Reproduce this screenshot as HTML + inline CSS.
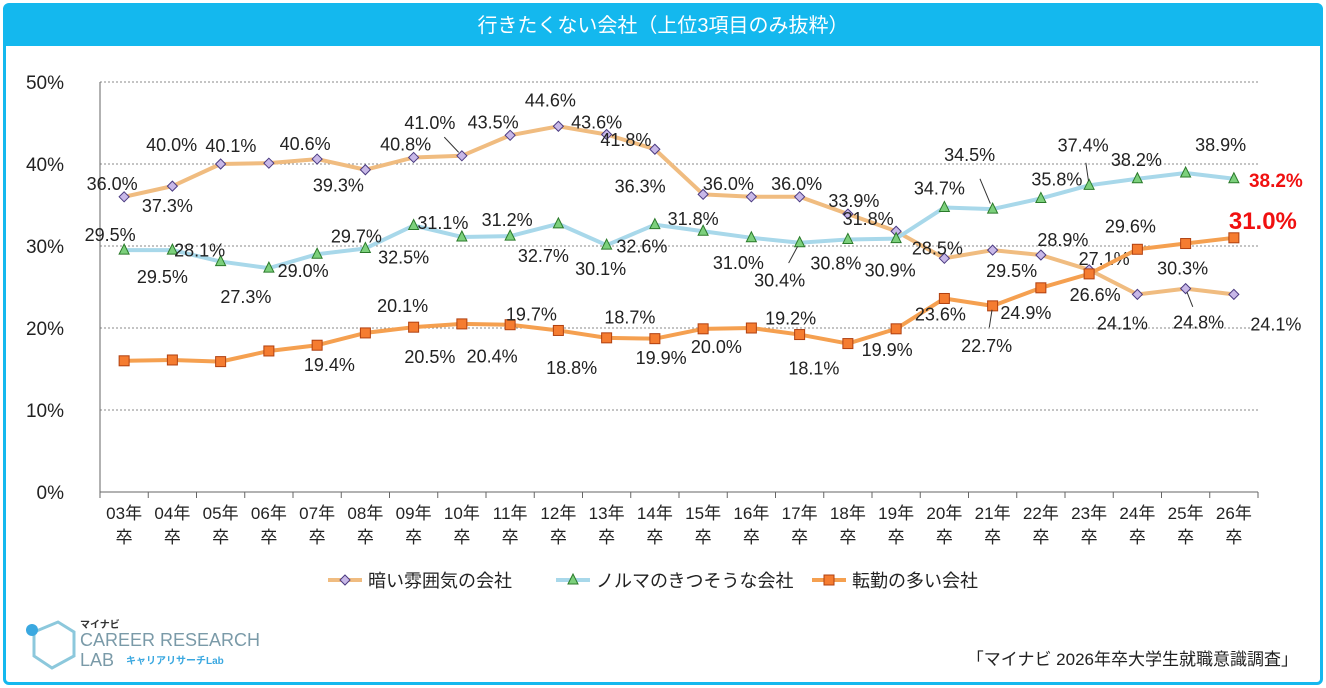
<!DOCTYPE html>
<html><head><meta charset="utf-8">
<style>
body{margin:0;width:1326px;height:688px;background:#fff;font-family:"Liberation Sans","Noto Sans CJK JP",sans-serif;overflow:hidden}
#frame{position:absolute;left:3px;top:3px;width:1314px;height:676px;border:3px solid #14B8EE;border-radius:6px}
#title{position:absolute;left:6px;top:6px;width:1314px;height:40px;background:#14B8EE;color:#fff;font-size:20px;text-align:center;line-height:40px}
</style></head><body>
<div id="frame"></div>
<div id="title">行きたくない会社（上位3項目のみ抜粋）</div>
<svg id="chart" width="1326" height="688" style="position:absolute;left:0;top:0"></svg>
<script>
const categories=["03","04","05","06","07","08","09","10","11","12","13","14","15","16","17","18","19","20","21","22","23","24","25","26"];
const darkValues=[36.0,37.3,40.0,40.1,40.6,39.3,40.8,41.0,43.5,44.6,43.6,41.8,36.3,36.0,36.0,33.9,31.8,28.5,29.5,28.9,27.1,24.1,24.8,24.1];
const normaValues=[29.5,29.5,28.1,27.3,29.0,29.7,32.5,31.1,31.2,32.7,30.1,32.6,31.8,31.0,30.4,30.8,30.9,34.7,34.5,35.8,37.4,38.2,38.9,38.2];
const transferValues=[16.0,16.1,15.9,17.2,17.9,19.4,20.1,20.5,20.4,19.7,18.8,18.7,19.9,20.0,19.2,18.1,19.9,23.6,22.7,24.9,26.6,29.6,30.3,31.0];
const yTicks=[0,10,20,30,40,50];
const seriesNames=["暗い雰囲気の会社","ノルマのきつそうな会社","転勤の多い会社"];
const darkOff=[[-12,-14],[-5,19],[-49,-20],[-38,-18],[-12,-16],[-27,15],[-8,-14],[-32,-34],[-17,-14],[-8,-27],[-10,-13],[-29,-10],[-63,-9],[-23,-14],[-3,-14],[6,-14],[-28,-13],[-7,-11],[19,20],[22,-16],[15,-12],[-15,28],[13,33],[42,29]];
const normaOff=[[-14,-16],[-10,26],[-21,-12],[-23,28],[-14,16],[-9,-13],[-10,31],[-19,-15],[-3,-17],[-15,31],[-6,23],[-13,21],[-10,-13],[-13,24],[-20,37],[-12,23],[-6,31],[-5,-20],[-23,-55],[16,-20],[-6,-41],[-1,-20],[35,-29],[42,1]];
const transOff=[null,null,null,null,null,[-36,31],[-11,-22],[-32,32],[-18,31],[-27,-17],[-35,29],[-25,-22],[-42,28],[-35,18],[-9,-17],[-34,24],[-9,20],[-4,15],[-6,39],[-15,24],[6,20],[-7,-24],[-3,24],[29,-16]];
const svg=document.getElementById('chart');const NS='http://www.w3.org/2000/svg';
const X0=100,X1=1258,Y0=492,YTOP=82;
const bw=(X1-X0)/categories.length;
const xs=i=>X0+bw*(i+0.5);
const ys=v=>Y0-(v/50)*(Y0-YTOP);
function mk(t,a,p){const e=document.createElementNS(NS,t);for(const k in a)e.setAttribute(k,a[k]);(p||svg).appendChild(e);return e;}
yTicks.forEach(t=>{
 if(t>0){const l=mk('line',{x1:X0,x2:X1,y1:ys(t),y2:ys(t),stroke:'#888','stroke-dasharray':'2,2','stroke-width':1});
 
 }
 const tx=mk('text',{x:64,y:ys(t)+7,'text-anchor':'end','font-size':19,fill:'#222'});tx.textContent=t+'%';
 
 
});
mk('line',{x1:X0,x2:X0,y1:YTOP,y2:Y0,stroke:'#666'});
mk('line',{x1:X0,x2:X1,y1:Y0,y2:Y0,stroke:'#666'});
categories.forEach((c,i)=>{
 mk('line',{x1:X0+bw*i,x2:X0+bw*i,y1:Y0,y2:Y0+6,stroke:'#666'});
 const t=mk('text',{x:xs(i),y:Y0+27,'text-anchor':'middle','font-size':17,fill:'#222'});t.textContent=c+'年';
 
 
 const t2=mk('text',{x:xs(i),y:Y0+51,'text-anchor':'middle','font-size':17,fill:'#222'});t2.textContent='卒';
});
mk('line',{x1:X1,x2:X1,y1:Y0,y2:Y0+6,stroke:'#666'});
function marker(kind,x,y,g){
 if(kind==0)return mk('polygon',{points:`${x},${y-5} ${x+5},${y} ${x},${y+5} ${x-5},${y}`,fill:'#C8B8E8',stroke:'#4A3A80','stroke-width':1},g);
 if(kind==1)return mk('polygon',{points:`${x},${y-6} ${x+5},${y+4} ${x-5},${y+4}`,fill:'#7CD07C',stroke:'#2A7A2A','stroke-width':1},g);
 return mk('rect',{x:x-5,y:y-5,width:10,height:10,fill:'#F57C30',stroke:'#B04010','stroke-width':1},g);
}
const series=[[darkValues,'#F0BC80',darkOff],[normaValues,'#A8D8EA',normaOff],[transferValues,'#F5A050',transOff]];
series.forEach(([vals,col,off],k)=>{
 const g=mk('g',{});
 
 
 mk('polyline',{points:vals.map((v,i)=>xs(i)+','+ys(v)).join(' '),fill:'none',stroke:col,'stroke-width':4,'stroke-linejoin':'round'},g);
 vals.forEach((v,i)=>{
  const m=marker(k,xs(i),ys(v),g);
  
  
  const o=off[i];if(!o)return;
  const last=i==vals.length-1&&k>0;
  const lx=xs(i)+o[0],ly=ys(v)+o[1];
  if(Math.abs(o[1])>32&&!last){const f=0.55;mk('line',{x1:xs(i)+o[0]*0.1,y1:ys(v)+o[1]*0.1,x2:xs(i)+o[0]*f,y2:ys(v)+o[1]*f,stroke:'#333','stroke-width':1},g);}
  const t=mk('text',{x:lx,y:ly+7,'text-anchor':'middle','font-size':last?(k==2?24:19):18,fill:last?'#F01010':'#222','font-weight':last?'bold':'normal'},g);
  t.textContent=v.toFixed(1)+'%';
  
  
 });
});
const lx=[328,556,812];
seriesNames.forEach((n,k)=>{
 const g=mk('g',{});
 
 
 mk('line',{x1:lx[k],x2:lx[k]+34,y1:580,y2:580,stroke:series[k][1],'stroke-width':4},g);
 marker(k,lx[k]+17,580,g);
 const t=mk('text',{x:lx[k]+40,y:587,'font-size':18,fill:'#222'},g);t.textContent=n;
});
const src=mk('text',{x:1298,y:665,'text-anchor':'end','font-size':17,fill:'#222'});src.textContent='「マイナビ 2026年卒大学生就職意識調査」';


const lg=mk('g',{});


mk('polygon',{points:'34,632 58,622 74,632 74,656 52,668 34,656',fill:'none',stroke:'#8CC8DC','stroke-width':3},lg);
mk('circle',{cx:32,cy:630,r:6,fill:'#3AA8E0'},lg);
let t=mk('text',{x:80,y:628,'font-size':10,fill:'#333','font-weight':'bold'},lg);t.textContent='マイナビ';
t=mk('text',{x:80,y:646,'font-size':18,fill:'#7A9AA8'},lg);t.textContent='CAREER RESEARCH';
t=mk('text',{x:80,y:666,'font-size':18,fill:'#7A9AA8'},lg);t.textContent='LAB';
t=mk('text',{x:126,y:664,'font-size':10,fill:'#3AA8E0','font-weight':'bold'},lg);t.textContent='キャリアリサーチLab';
</script>
</body></html>
